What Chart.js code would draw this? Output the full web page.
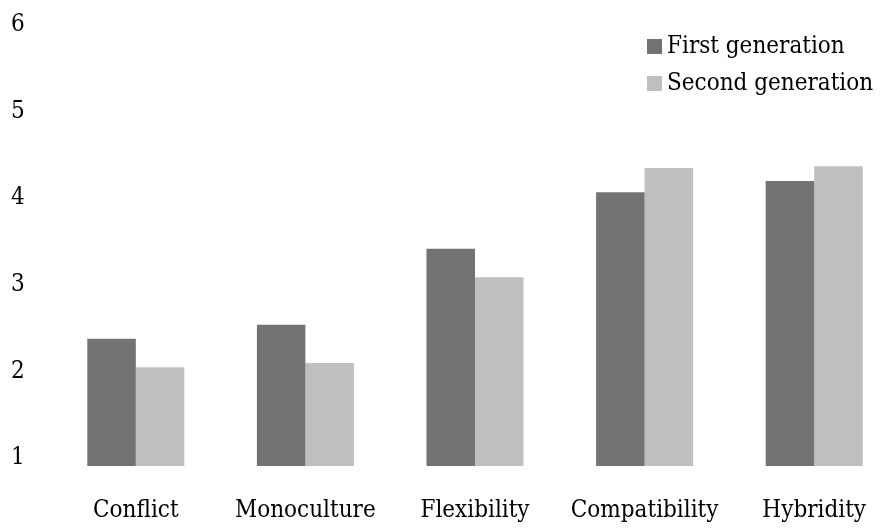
<!DOCTYPE html>
<html>
<head>
<meta charset="utf-8">
<script src="https://cdn.jsdelivr.net/npm/chart.js@4/dist/chart.umd.min.js"></script>
<style>
    html, body { margin: 0; padding: 0; background: #fff; overflow: hidden; }
    #wrap { width: 882px; height: 529px; overflow: hidden; }
    #wrap div { width: 900px; height: 529px; }
</style>
</head>
<body>
<div id="wrap"><div><canvas id="myChart"></canvas></div></div>
<script>
// Data
const categories = ['Conflict', 'Monoculture', 'Flexibility', 'Compatibility', 'Hybridity'];
const firstGen = [2.47, 2.63, 3.51, 4.16, 4.29];
const secondGen = [2.14, 2.19, 3.18, 4.44, 4.46];
const yTicks = [1, 2, 3, 4, 5, 6];

const FONT = '"DejaVu Serif Condensed", "DejaVu Serif", serif';

// Legend drawn inside the plot, top right, squares aligned on the left
const cornerLegend = {
    id: 'cornerLegend',
    afterDraw(chart) {
        const ctx = chart.ctx;
        ctx.save();
        ctx.font = '24px ' + FONT;
        ctx.textBaseline = 'middle';
        chart.data.datasets.forEach((ds, i) => {
            const y = 47 + i * 37;
            ctx.fillStyle = ds.backgroundColor;
            ctx.fillRect(647, y - 8, 15, 15);
            ctx.fillStyle = '#000';
            ctx.fillText(ds.label, 667, y);
        });
        ctx.restore();
    }
};

const ctx = document.getElementById('myChart').getContext('2d');
const chart = new Chart(ctx, {
    type: 'bar',
    data: {
        labels: categories,
        datasets: [{
            label: 'First generation',
            data: firstGen,
            backgroundColor: '#737373',
            categoryPercentage: 0.572,
            barPercentage: 1.0
        }, {
            label: 'Second generation',
            data: secondGen,
            backgroundColor: '#bfbfbf',
            categoryPercentage: 0.572,
            barPercentage: 1.0
        }]
    },
    options: {
        responsive: true,
        maintainAspectRatio: false,
        animation: false,
        layout: {
            padding: { top: 33, left: 11, right: 1, bottom: 0 }
        },
        plugins: {
            legend: { display: false },
            tooltip: { enabled: false }
        },
        scales: {
            x: {
                grid: { display: false, drawTicks: false },
                border: { display: false },
                afterFit: axis => { axis.height = 63; },
                ticks: {
                    color: '#000',
                    padding: 30,
                    font: { family: FONT, size: 24 }
                }
            },
            y: {
                min: 1,
                max: 6,
                afterBuildTicks: axis => { axis.ticks = yTicks.map(v => ({ value: v })); },
                afterFit: axis => { axis.width = 40; },
                grid: { display: false, drawTicks: false },
                border: { display: false },
                ticks: {
                    color: '#000',
                    padding: 0,
                    crossAlign: 'far',
                    labelOffset: -8,
                    font: { family: FONT, size: 24 }
                }
            }
        }
    },
    plugins: [cornerLegend]
});
</script>
</body>
</html>
